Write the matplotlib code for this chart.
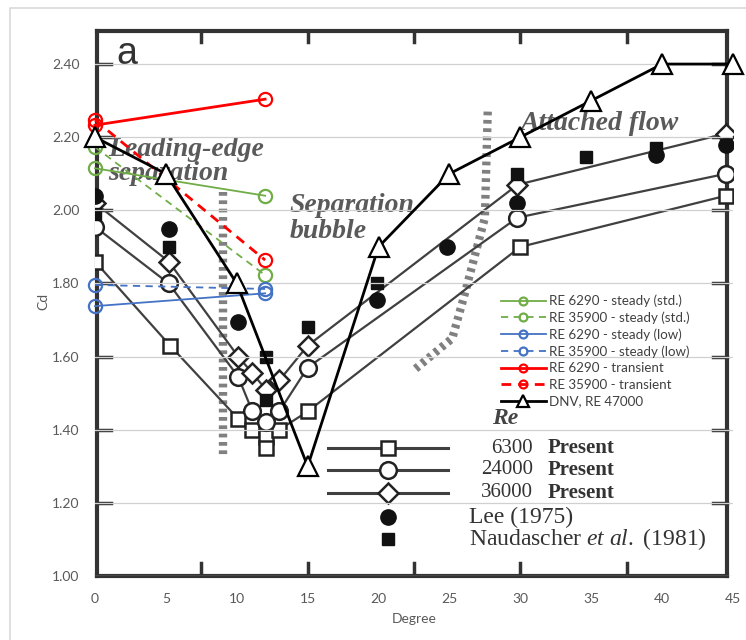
import matplotlib
matplotlib.use('Agg')
import matplotlib.pyplot as plt
from matplotlib.lines import Line2D

plt.rcParams['mathtext.fontset'] = 'custom'
plt.rcParams['mathtext.rm'] = 'Liberation Serif'
plt.rcParams['mathtext.it'] = 'Liberation Serif:italic'

# ---- data: Excel overlay series ----
deg_cfd = [0, 12]
std_6290 = [2.115, 2.04]
std_35900 = [2.173, 1.823]
low_6290 = [1.738, 1.773]
low_35900 = [1.796, 1.785]
tr_6290 = [2.233, 2.304]
tr_35900 = [2.247, 1.864]

deg_dnv = [0, 5, 10, 15, 20, 25, 30, 35, 40, 45]
dnv_47000 = [2.20, 2.10, 1.80, 1.30, 1.90, 2.10, 2.20, 2.30, 2.40, 2.40]

# ---- data: scanned background figure ----
sq_x = [0, 5.3, 10.1, 11.1, 12.05, 13.0, 15.0, 30.0, 44.5]
sq_y = [1.86, 1.63, 1.43, 1.40, 1.38, 1.40, 1.45, 1.90, 2.04]
sq_extra_x = [12.05]
sq_extra_y = [1.35]
ci_x = [0, 5.2, 10.1, 11.1, 12.05, 13.0, 15.0, 29.8, 44.5]
ci_y = [1.955, 1.80, 1.545, 1.45, 1.42, 1.45, 1.57, 1.98, 2.10]
di_x = [0, 5.2, 10.1, 11.1, 12.05, 13.0, 15.0, 29.8, 44.5]
di_y = [2.02, 1.86, 1.60, 1.555, 1.51, 1.535, 1.63, 2.07, 2.21]
lee_x = [0, 5.2, 10.1, 19.9, 24.8, 29.8, 39.6, 44.5]
lee_y = [2.04, 1.95, 1.695, 1.755, 1.90, 2.02, 2.15, 2.18]
nau_x = [0, 5.2, 12.05, 12.05, 15.0, 19.9, 29.8, 34.6, 39.6]
nau_y = [1.99, 1.90, 1.60, 1.48, 1.68, 1.80, 2.10, 2.145, 2.17]

hatch1_x = [9.0, 9.0]
hatch1_y = [2.05, 1.33]
hatch2_x = [27.7, 27.5, 26.0, 25.2, 22.4]
hatch2_y = [2.27, 1.98, 1.76, 1.65, 1.56]

scan_ticks_x = [7.5, 15, 22.5, 30, 37.5]
scan_ticks_y = [1.2, 1.4, 1.6, 1.8, 2.0, 2.2, 2.4]

yticks = [1.0, 1.2, 1.4, 1.6, 1.8, 2.0, 2.2, 2.4]
xticks = [0, 5, 10, 15, 20, 25, 30, 35, 40, 45]

W, H = 746, 640
fig = plt.figure(figsize=(W / 100, H / 100), dpi=100)
ax = fig.add_axes([95 / W, 1 - 576 / H, (733 - 95) / W, (576 - 27.5) / H])
ax.set_xlim(0, 45)
ax.set_ylim(1.0, 2.5)

# chart area border (cropped on right / bottom)
fig.add_artist(Line2D([10 / W, 10 / W, 1], [0, 1 - 8 / H, 1 - 8 / H],
                      color='#d9d9d9', lw=1.2, transform=fig.transFigure))

grey = '#404040'
serif = ['Liberation Serif', 'DejaVu Serif']

# ---- scanned figure ----
for x0, x1, y0, y1 in [(0.14, 0.14, 1.0, 2.49), (44.6, 44.6, 1.0, 2.49),
                       (0.14, 44.6, 1.0, 1.0), (0.14, 44.6, 2.49, 2.49)]:
    ax.plot([x0, x1], [y0, y1], color='#333333', lw=3, zorder=1,
            solid_capstyle='projecting', clip_on=False)
for t in scan_ticks_x:
    ax.plot([t, t], [1.0, 1.035], color='#333333', lw=2.5, zorder=1)
    ax.plot([t, t], [2.49, 2.46], color='#333333', lw=2.5, zorder=1)
for t in scan_ticks_y:
    ax.plot([0.14, 1.1], [t, t], color='#333333', lw=2.5, zorder=1)
    ax.plot([43.6, 44.6], [t, t], color='#333333', lw=2.5, zorder=1)

for xs, ys in [(hatch1_x, hatch1_y), (hatch2_x, hatch2_y)]:
    ax.plot(xs, ys, color='#808080', lw=6, dashes=(0.45, 0.55),
            solid_capstyle='butt', dash_capstyle='butt', zorder=1)

ax.plot(sq_x, sq_y, color=grey, lw=1.6, marker='s', ms=10, mfc='white',
        mec='#222222', mew=1.8, zorder=2)
ax.plot(sq_extra_x, sq_extra_y, ls='none', marker='s', ms=10, mfc='white',
        mec='#222222', mew=1.8, zorder=2)
ax.plot(ci_x, ci_y, color=grey, lw=1.6, marker='o', ms=12, mfc='white',
        mec='#222222', mew=1.8, zorder=2)
ax.plot(di_x, di_y, color=grey, lw=1.6, marker='D', ms=10, mfc='white',
        mec='#222222', mew=1.8, zorder=2)
ax.plot(lee_x, lee_y, ls='none', marker='o', ms=11, color='#111111', zorder=2)
ax.plot(nau_x, nau_y, ls='none', marker='s', ms=8, color='#111111', zorder=2)

ax.text(1.5, 2.40, 'a', fontsize=27, family='Liberation Sans', color='#333333',
        va='baseline', zorder=2)
scan_txt = dict(fontsize=20, family=serif, style='italic', weight='bold',
                color='#5a5a5a', zorder=2)
ax.text(0.9, 2.148, 'Leading-edge', **scan_txt)
ax.text(0.9, 2.082, 'separation', **scan_txt)
ax.text(13.7, 1.995, 'Separation', **scan_txt)
ax.text(13.7, 1.925, 'bubble', **scan_txt)
ax.text(30.0, 2.22, 'Attached flow', **scan_txt)

# scanned legend
ax.text(28.0, 1.415, 'Re', fontsize=17, family=serif, style='italic',
        weight='bold', color='#444444', zorder=2)
key_y = [1.35, 1.29, 1.227]
key_m = [('s', 10), ('o', 12), ('D', 10)]
key_re = ['6300', '24000', '36000']
for ky, (m, s), re in zip(key_y, key_m, key_re):
    ax.plot([16.4, 24.9], [ky, ky], color=grey, lw=2.2, zorder=2)
    ax.plot([20.7], [ky], marker=m, ms=s, mfc='white', mec='#222222',
            mew=1.8, zorder=2)
    ax.text(30.9, ky, re, fontsize=15, family=serif, color='#333333',
            ha='right', va='center', zorder=2)
    ax.text(31.9, ky, 'Present', fontsize=15, family=serif, weight='bold',
            color='#333333', va='center', zorder=2)
ax.plot([20.7], [1.16], marker='o', ms=11, color='#111111', zorder=2)
ax.plot([20.7], [1.10], marker='s', ms=8, color='#111111', zorder=2)
ax.text(26.4, 1.16, 'Lee (1975)', fontsize=17, family=serif, color='#333333',
        va='center', zorder=2)
ax.text(26.4, 1.10, r'Naudascher $\it{et\ al.}$ (1981)', fontsize=17,
        family=serif, color='#333333', va='center', zorder=2)

# ---- Excel overlay ----
ax.set_yticks(yticks)
ax.set_xticks(xticks)
ax.set_yticklabels(['%.2f' % v for v in yticks])
ax.grid(axis='y', color='#d0d0d0', lw=0.9, zorder=3)
ax.set_axisbelow(False)
for s in ax.spines.values():
    s.set_visible(False)
ax.tick_params(length=0, labelsize=10, colors='#595959')
ax.tick_params(axis='y', pad=11)
ax.tick_params(axis='x', pad=12)
for lab in ax.get_xticklabels() + ax.get_yticklabels():
    lab.set_family('Lato')

mk = dict(marker='o', ms=9.5, mfc='none', mew=1.6, zorder=5, clip_on=False)
ax.plot(deg_cfd, std_6290, color='#70ad47', lw=1.3,
        label='RE 6290 - steady (std.)', **mk)
ax.plot(deg_cfd, std_35900, color='#70ad47', lw=1.3, ls=(0, (4, 3)),
        label='RE 35900 - steady (std.)', **mk)
ax.plot(deg_cfd, low_6290, color='#4472c4', lw=1.3,
        label='RE 6290 - steady (low)', **mk)
ax.plot(deg_cfd, low_35900, color='#4472c4', lw=1.3, ls=(0, (4, 3)),
        label='RE 35900 - steady (low)', **mk)
ax.plot(deg_cfd, tr_6290, color='#ff0000', lw=2.0,
        label='RE 6290 - transient', **mk)
ax.plot(deg_cfd, tr_35900, color='#ff0000', lw=2.0, ls=(0, (3.5, 2.5)),
        label='RE 35900 - transient', **mk)
ax.plot(deg_dnv, dnv_47000, color='black', lw=2.0, marker='^', ms=14,
        mfc='white', mec='black', mew=1.6, zorder=6, clip_on=False,
        label='DNV, RE 47000')

leg = ax.legend(loc='upper left', bbox_to_anchor=(494 / W, 1 - 288 / H),
                bbox_transform=fig.transFigure, frameon=False,
                handlelength=3.4, handletextpad=0.2, labelspacing=0.33,
                markerscale=0.6, borderpad=0, prop={'family': 'Lato', 'size': 9.6})
for t in leg.get_texts():
    t.set_color('#404040')

ax.set_ylabel('Cd', fontsize=10, color='#595959', family='Lato', labelpad=2)
ax.set_xlabel('Degree', fontsize=10, color='#595959', family='Lato', labelpad=6)

fig.savefig('out.png', dpi=100)
